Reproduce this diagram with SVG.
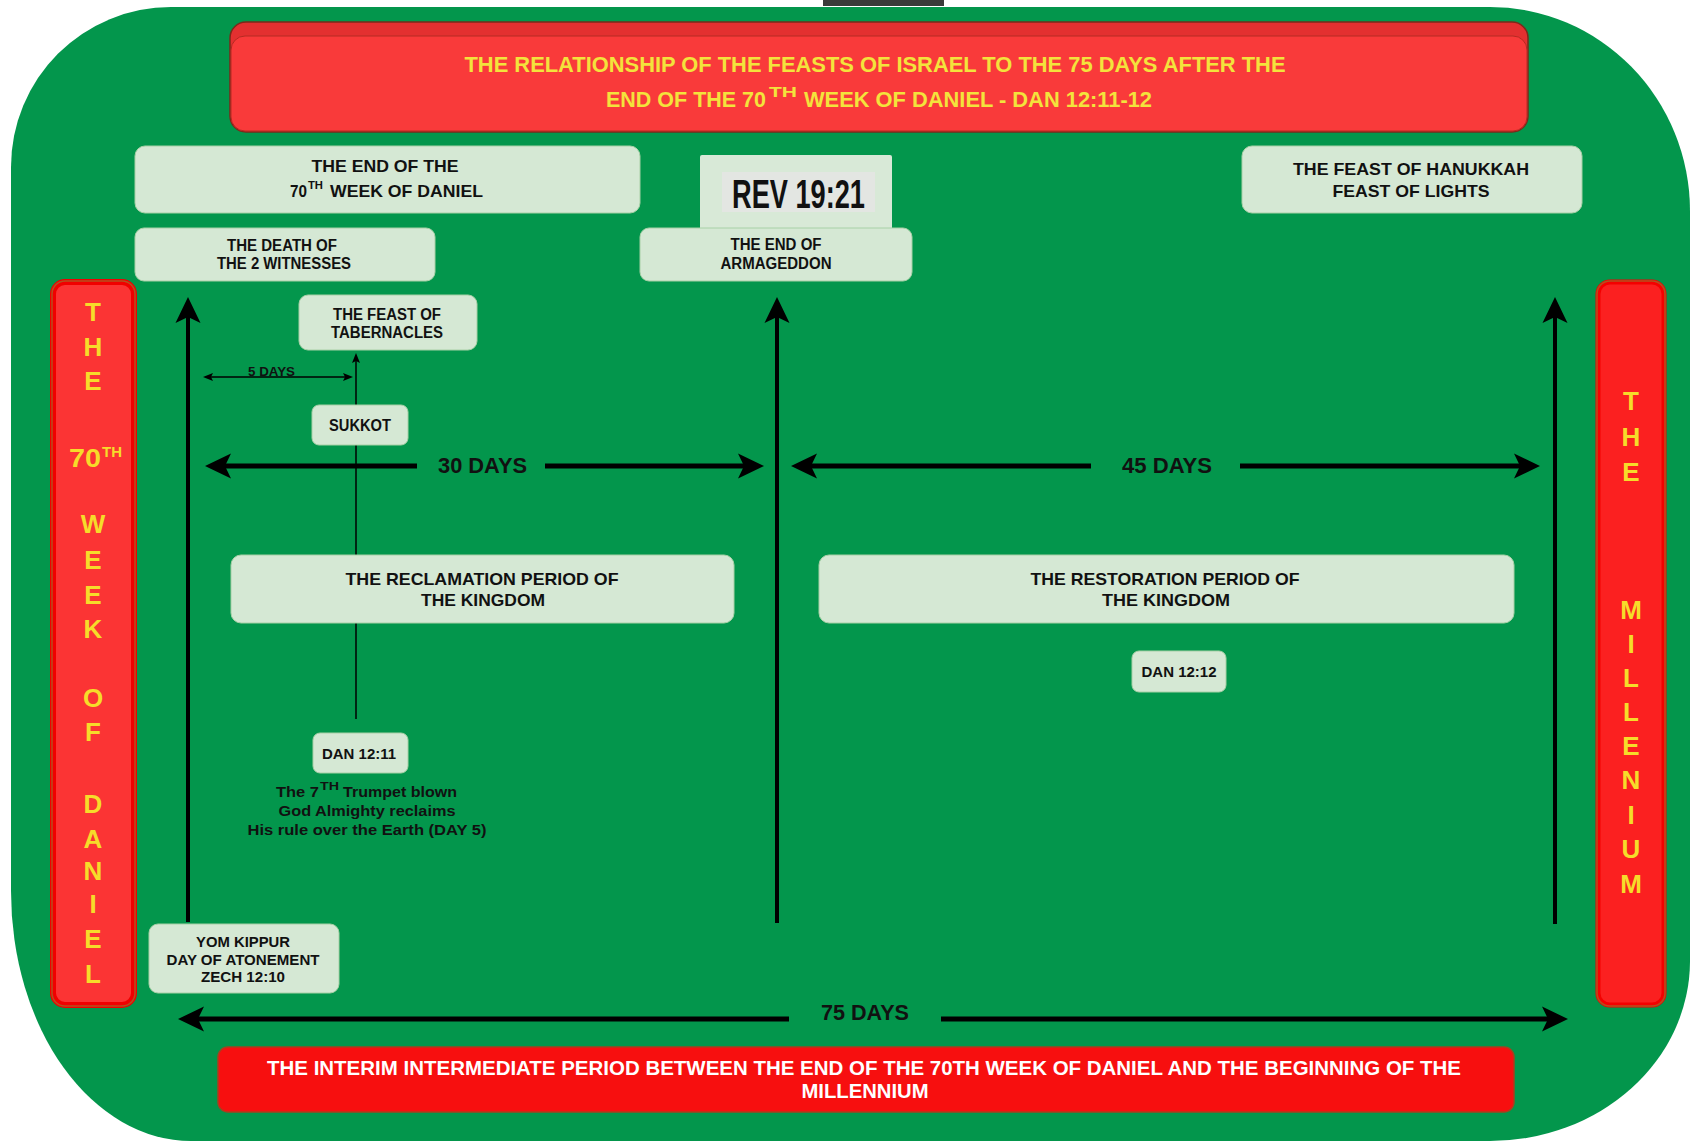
<svg xmlns="http://www.w3.org/2000/svg" width="1691" height="1145" viewBox="0 0 1691 1145">
<defs>
<style>
.box{fill:#d5e8d4;stroke:#a8d0a6;stroke-width:1}
.t{font-family:"Liberation Sans",Arial,sans-serif;font-weight:bold;fill:#111}
.c{text-anchor:middle}
.y{font-family:"Liberation Sans",Arial,sans-serif;font-weight:bold;fill:#f6dc2a;text-anchor:middle;font-size:26px}
.ty{font-family:"Liberation Sans",Arial,sans-serif;font-weight:bold;fill:#f3e33c;font-size:22px}
.w{font-family:"Liberation Sans",Arial,sans-serif;font-weight:bold;fill:#ffffff;font-size:20px;text-anchor:middle}
.thick{stroke:#000;stroke-width:5;fill:none}
.vert{stroke:#000;stroke-width:4;fill:none}
.thin{stroke:#000;stroke-width:1.5;fill:none}
</style>
<marker id="ah" viewBox="0 0 26 26" refX="14" refY="13" markerWidth="26" markerHeight="26" markerUnits="userSpaceOnUse" orient="auto-start-reverse">
<path d="M0,0.5 L26,13 L0,25.5 L6,13 Z" fill="#000"/>
</marker>
<marker id="sh" viewBox="0 0 10 8" refX="6" refY="4" markerWidth="10" markerHeight="8" markerUnits="userSpaceOnUse" orient="auto-start-reverse">
<path d="M0,0 L10,4 L0,8 L2,4 Z" fill="#000"/>
</marker>
</defs>
<rect x="0" y="0" width="1691" height="1145" fill="#ffffff"/>
<rect x="823" y="0" width="121" height="6" fill="#3a3a3a"/>
<path d="M171,7 H1490 A200,204 0 0 1 1690,211 V961 A200,180 0 0 1 1490,1141 H191 A180,250 0 0 1 11,891 V167 A160,160 0 0 1 171,7 Z" fill="#03964c"/>

<g id="title">
<rect x="230" y="22" width="1298" height="110" rx="16" fill="#e33030" stroke="#7a2a1a" stroke-width="1.5"/>
<rect x="231" y="36" width="1296" height="95" rx="14" fill="#f93a3a" stroke="#b52a22" stroke-width="1"/>
<text class="ty" x="875" y="72" text-anchor="middle" textLength="821" lengthAdjust="spacingAndGlyphs">THE RELATIONSHIP OF THE FEASTS OF ISRAEL TO THE 75 DAYS AFTER THE</text>
<text class="ty" x="606" y="107" textLength="160" lengthAdjust="spacingAndGlyphs">END OF THE 70</text>
<text class="ty" x="769" y="97" style="font-size:15px" textLength="28" lengthAdjust="spacingAndGlyphs">TH</text>
<text class="ty" x="804" y="107" textLength="348" lengthAdjust="spacingAndGlyphs">WEEK OF DANIEL - DAN 12:11-12</text>
</g>

<g id="bar-left">
<rect x="53" y="282" width="81" height="723" rx="12" fill="#fb3434" stroke="#f00000" stroke-width="6"/>
<rect x="52" y="281" width="83" height="725" rx="13" fill="none" stroke="#b4501e" stroke-width="1.5"/>
<text class="y" x="93" y="321">T</text>
<text class="y" x="93" y="356">H</text>
<text class="y" x="93" y="390">E</text>
<text class="y" x="69" y="467" style="text-anchor:start" textLength="32" lengthAdjust="spacingAndGlyphs">70</text>
<text class="y" x="102" y="457" style="text-anchor:start;font-size:15px" textLength="20" lengthAdjust="spacingAndGlyphs">TH</text>
<text class="y" x="93" y="533">W</text>
<text class="y" x="93" y="569">E</text>
<text class="y" x="93" y="604">E</text>
<text class="y" x="93" y="638">K</text>
<text class="y" x="93" y="707">O</text>
<text class="y" x="93" y="741">F</text>
<text class="y" x="93" y="813">D</text>
<text class="y" x="93" y="848">A</text>
<text class="y" x="93" y="880">N</text>
<text class="y" x="93" y="913">I</text>
<text class="y" x="93" y="948">E</text>
<text class="y" x="93" y="983">L</text>
</g>

<g id="bar-right">
<rect x="1598" y="282" width="66" height="723" rx="12" fill="#fb2020" stroke="#f40000" stroke-width="5"/>
<rect x="1597" y="281" width="68" height="725" rx="13" fill="none" stroke="#b4501e" stroke-width="1.5"/>
<text class="y" x="1631" y="410">T</text>
<text class="y" x="1631" y="446">H</text>
<text class="y" x="1631" y="481">E</text>
<text class="y" x="1631" y="619">M</text>
<text class="y" x="1631" y="653">I</text>
<text class="y" x="1631" y="687">L</text>
<text class="y" x="1631" y="721">L</text>
<text class="y" x="1631" y="755">E</text>
<text class="y" x="1631" y="789">N</text>
<text class="y" x="1631" y="824">I</text>
<text class="y" x="1631" y="858">U</text>
<text class="y" x="1631" y="893">M</text>
</g>

<g id="connectors">
<line class="vert" x1="188" y1="922" x2="188" y2="309" marker-end="url(#ah)"/>
<line class="vert" x1="777" y1="923" x2="777" y2="309" marker-end="url(#ah)"/>
<line class="vert" x1="1555" y1="924" x2="1555" y2="309" marker-end="url(#ah)"/>
<line class="thin" x1="356" y1="719" x2="356" y2="357" marker-end="url(#sh)"/>
<line class="thin" x1="207" y1="377" x2="349" y2="377" marker-start="url(#sh)" marker-end="url(#sh)"/>
<text class="t" x="248" y="376" style="font-size:12px" textLength="47" lengthAdjust="spacingAndGlyphs">5 DAYS</text>
<line class="thick" x1="417" y1="466" x2="217" y2="466" marker-end="url(#ah)"/>
<line class="thick" x1="545" y1="466" x2="752" y2="466" marker-end="url(#ah)"/>
<text class="t" x="438" y="473" style="font-size:22px" textLength="89" lengthAdjust="spacingAndGlyphs">30 DAYS</text>
<line class="thick" x1="1091" y1="466" x2="803" y2="466" marker-end="url(#ah)"/>
<line class="thick" x1="1240" y1="466" x2="1528" y2="466" marker-end="url(#ah)"/>
<text class="t" x="1122" y="473" style="font-size:22px" textLength="90" lengthAdjust="spacingAndGlyphs">45 DAYS</text>
<line class="thick" x1="789" y1="1019" x2="190" y2="1019" marker-end="url(#ah)"/>
<line class="thick" x1="941" y1="1019" x2="1556" y2="1019" marker-end="url(#ah)"/>
<text class="t" x="821" y="1020" style="font-size:22px" textLength="88" lengthAdjust="spacingAndGlyphs">75 DAYS</text>
</g>

<g id="end-70th">
<rect class="box" x="135" y="146" width="505" height="67" rx="10"/>
<text class="t c" x="385" y="172" style="font-size:17px" textLength="147" lengthAdjust="spacingAndGlyphs">THE END OF THE</text>
<text class="t" x="290" y="197" style="font-size:17px" textLength="17" lengthAdjust="spacingAndGlyphs">70</text>
<text class="t" x="308" y="189" style="font-size:10px" textLength="15" lengthAdjust="spacingAndGlyphs">TH</text>
<text class="t" x="330" y="197" style="font-size:17px" textLength="153" lengthAdjust="spacingAndGlyphs">WEEK OF DANIEL</text>
</g>

<g id="death-witnesses">
<rect class="box" x="135" y="228" width="300" height="53" rx="9"/>
<text class="t c" x="282" y="251" style="font-size:16px" textLength="110" lengthAdjust="spacingAndGlyphs">THE DEATH OF</text>
<text class="t c" x="284" y="269" style="font-size:16px" textLength="134" lengthAdjust="spacingAndGlyphs">THE 2 WITNESSES</text>
</g>

<g id="rev">
<rect x="700" y="155" width="192" height="80" rx="2" fill="#d8e9d7"/>
<rect x="722" y="172" width="153" height="40" fill="#e3e6e2"/>
<text x="732" y="208" style="font-family:'Liberation Sans',Arial,sans-serif;font-weight:bold;font-size:40px;fill:#111" textLength="133" lengthAdjust="spacingAndGlyphs">REV 19:21</text>
</g>

<g id="armageddon">
<rect class="box" x="640" y="228" width="272" height="53" rx="9"/>
<text class="t c" x="776" y="250" style="font-size:16px" textLength="91" lengthAdjust="spacingAndGlyphs">THE END OF</text>
<text class="t c" x="776" y="269" style="font-size:16px" textLength="111" lengthAdjust="spacingAndGlyphs">ARMAGEDDON</text>
</g>

<g id="hanukkah">
<rect class="box" x="1242" y="146" width="340" height="67" rx="10"/>
<text class="t c" x="1411" y="175" style="font-size:17px" textLength="236" lengthAdjust="spacingAndGlyphs">THE FEAST OF HANUKKAH</text>
<text class="t c" x="1411" y="197" style="font-size:17px" textLength="157" lengthAdjust="spacingAndGlyphs">FEAST OF LIGHTS</text>
</g>

<g id="tabernacles">
<rect class="box" x="299" y="295" width="178" height="55" rx="9"/>
<text class="t c" x="387" y="320" style="font-size:16px" textLength="108" lengthAdjust="spacingAndGlyphs">THE FEAST OF</text>
<text class="t c" x="387" y="338" style="font-size:16px" textLength="112" lengthAdjust="spacingAndGlyphs">TABERNACLES</text>
</g>

<g id="sukkot">
<rect class="box" x="312" y="405" width="96" height="40" rx="7"/>
<text class="t c" x="360" y="431" style="font-size:16px" textLength="62" lengthAdjust="spacingAndGlyphs">SUKKOT</text>
</g>

<g id="reclamation">
<rect class="box" x="231" y="555" width="503" height="68" rx="10"/>
<text class="t c" x="482" y="585" style="font-size:17px" textLength="273" lengthAdjust="spacingAndGlyphs">THE RECLAMATION PERIOD OF</text>
<text class="t c" x="483" y="606" style="font-size:17px" textLength="124" lengthAdjust="spacingAndGlyphs">THE KINGDOM</text>
</g>

<g id="restoration">
<rect class="box" x="819" y="555" width="695" height="68" rx="10"/>
<text class="t c" x="1165" y="585" style="font-size:17px" textLength="269" lengthAdjust="spacingAndGlyphs">THE RESTORATION PERIOD OF</text>
<text class="t c" x="1166" y="606" style="font-size:17px" textLength="128" lengthAdjust="spacingAndGlyphs">THE KINGDOM</text>
</g>

<g id="dan-12-12">
<rect class="box" x="1132" y="651" width="94" height="41" rx="7"/>
<text class="t c" x="1179" y="677" style="font-size:15px" textLength="75" lengthAdjust="spacingAndGlyphs">DAN 12:12</text>
</g>

<g id="dan-12-11">
<rect class="box" x="313" y="733" width="95" height="40" rx="7"/>
<text class="t c" x="359" y="759" style="font-size:15px" textLength="74" lengthAdjust="spacingAndGlyphs">DAN 12:11</text>
</g>

<g id="trumpet-note">
<text class="t" x="276" y="797" style="font-size:15px" textLength="43" lengthAdjust="spacingAndGlyphs">The 7</text>
<text class="t" x="320" y="790" style="font-size:10px" textLength="19" lengthAdjust="spacingAndGlyphs">TH</text>
<text class="t" x="343" y="797" style="font-size:15px" textLength="114" lengthAdjust="spacingAndGlyphs">Trumpet blown</text>
<text class="t c" x="367" y="816" style="font-size:15px" textLength="177" lengthAdjust="spacingAndGlyphs">God Almighty reclaims</text>
<text class="t c" x="367" y="835" style="font-size:15px" textLength="239" lengthAdjust="spacingAndGlyphs">His rule over the Earth (DAY 5)</text>
</g>

<g id="yom-kippur">
<rect class="box" x="149" y="924" width="190" height="69" rx="9"/>
<text class="t c" x="243" y="947" style="font-size:15px" textLength="94" lengthAdjust="spacingAndGlyphs">YOM KIPPUR</text>
<text class="t c" x="243" y="965" style="font-size:15px" textLength="153" lengthAdjust="spacingAndGlyphs">DAY OF ATONEMENT</text>
<text class="t c" x="243" y="982" style="font-size:15px" textLength="84" lengthAdjust="spacingAndGlyphs">ZECH 12:10</text>
</g>

<g id="interim-banner">
<rect x="218" y="1047" width="1296" height="65" rx="10" fill="#f70f0f" stroke="#a8401e" stroke-width="1.5"/>
<text class="w" x="864" y="1075" textLength="1194" lengthAdjust="spacingAndGlyphs">THE INTERIM INTERMEDIATE PERIOD BETWEEN THE END OF THE 70TH WEEK OF DANIEL AND THE BEGINNING OF THE</text>
<text class="w" x="865" y="1098" textLength="127" lengthAdjust="spacingAndGlyphs">MILLENNIUM</text>
</g>
</svg>
